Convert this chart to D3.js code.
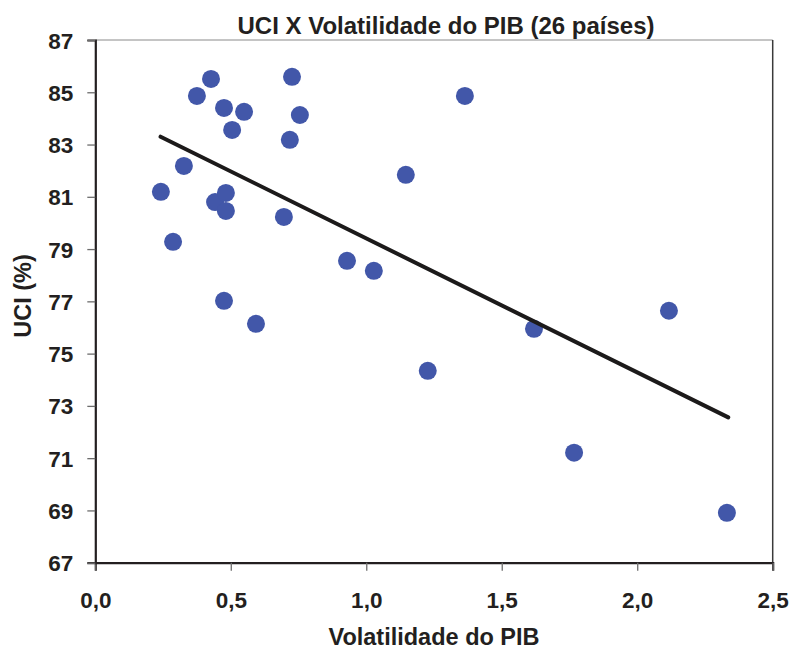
<!DOCTYPE html>
<html><head><meta charset="utf-8">
<script src="https://cdn.jsdelivr.net/npm/d3@7"></script>
<style>body{margin:0;background:#fff}svg{display:block}text{font-family:"Liberation Sans",Arial,sans-serif;font-weight:bold;fill:#231f20}</style>
</head><body>
<svg id="c" width="792" height="652"></svg>
<script>
const volatility = [0.242,0.287,0.327,0.375,0.427,0.442,0.475,0.482,0.482,0.475,0.505,0.549,0.593,0.696,0.718,0.726,0.755,0.929,1.028,1.146,1.227,1.364,1.619,1.767,2.117,2.331];
const uci        = [81.19,79.28,82.18,84.86,85.51,80.80,84.40,81.15,80.46,77.02,83.56,84.25,76.14,80.23,83.18,85.59,84.13,78.55,78.17,81.84,74.34,84.86,75.95,71.21,76.64,68.91];
const trendX = [0.241, 2.336];
const trendY = [83.30, 72.56];
const xTicks = [0,0.5,1,1.5,2,2.5];
const yTicks = [67,69,71,73,75,77,79,81,83,85,87];

const svg = d3.select("#c");
const L=95.3, R=772.7, T=40, B=562.7;
const x = d3.scaleLinear().domain([0,2.5]).range([L,R]);
const y = d3.scaleLinear().domain([67,87]).range([B,T]);
const fmt = d => d3.format(".1f")(d).replace(".",",");

// frame: top and right
svg.append("line").attr("x1",L).attr("x2",R).attr("y1",T).attr("y2",T).attr("stroke","#8a8a8a").attr("stroke-width",1);
svg.append("line").attr("x1",R).attr("x2",R).attr("y1",T).attr("y2",B).attr("stroke","#3a3a3a").attr("stroke-width",1.5);

const xa = svg.append("g").attr("transform",`translate(0,${B})`)
  .call(d3.axisBottom(x).tickValues(xTicks).tickFormat(fmt).tickSize(8).tickPadding(21));
const ya = svg.append("g").attr("transform",`translate(${L},0)`)
  .call(d3.axisLeft(y).tickValues(yTicks).tickFormat(d3.format("d")).tickSize(8).tickPadding(14));
[xa,ya].forEach(a=>{
  a.attr("font-size",null);
  a.select(".domain").attr("stroke","#231f20").attr("stroke-width",2.2);
  a.selectAll(".tick line").attr("stroke","#6d6d6d").attr("stroke-width",1.3);
  a.selectAll(".tick text").style("font-size","22.5px").attr("fill","#231f20");
});
ya.selectAll(".tick text").attr("dy","0.36em");

// points
svg.append("g").selectAll("circle").data(volatility.map((v,i)=>[v,uci[i]])).join("circle")
  .attr("cx",d=>x(d[0])).attr("cy",d=>y(d[1])).attr("r",9).attr("fill","#4257a9");

// trend line
svg.append("line").attr("x1",x(trendX[0])).attr("y1",y(trendY[0])).attr("x2",x(trendX[1])).attr("y2",y(trendY[1]))
  .attr("stroke","#1c1a1a").attr("stroke-width",4).attr("stroke-linecap","round");

svg.append("text").attr("x",446).attr("y",34).attr("text-anchor","middle").attr("font-size",24).text("UCI X Volatilidade do PIB (26 países)");
svg.append("text").attr("x",434).attr("y",645).attr("text-anchor","middle").attr("font-size",23.5).text("Volatilidade do PIB");
svg.append("text").attr("transform","translate(31,296) rotate(-90)").attr("text-anchor","middle").attr("font-size",23.5).text("UCI (%)");
</script>
</body></html>
